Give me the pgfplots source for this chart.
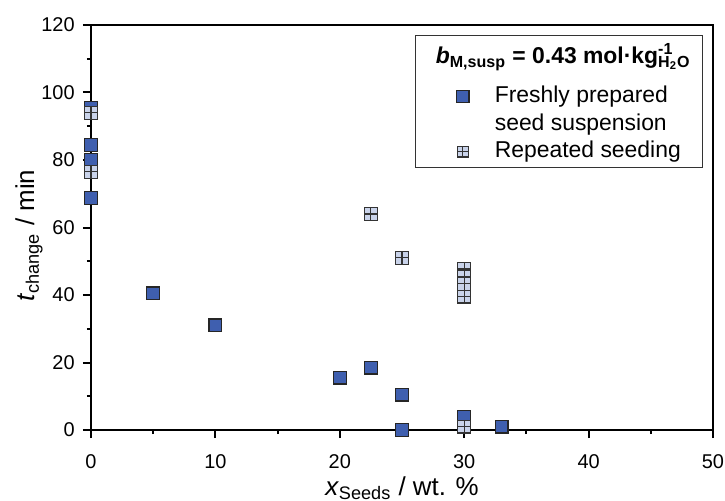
\documentclass[border=0pt]{standalone}
\usepackage{fontspec}
\setmainfont{Liberation Sans}
\usepackage{pgfplots}
\pgfplotsset{compat=1.18}
\definecolor{fresh}{HTML}{3F5FAF}
\definecolor{rep}{HTML}{C9D3EA}
\pgfdeclareplotmark{gsq}{%
 \pgfpathrectangle{\pgfpoint{-\pgfplotmarksize}{-\pgfplotmarksize}}{\pgfpoint{2\pgfplotmarksize}{2\pgfplotmarksize}}%
 \pgfusepathqfillstroke
 \pgfpathmoveto{\pgfpoint{-\pgfplotmarksize}{0pt}}\pgfpathlineto{\pgfpoint{\pgfplotmarksize}{0pt}}%
 \pgfpathmoveto{\pgfpoint{0pt}{-\pgfplotmarksize}}\pgfpathlineto{\pgfpoint{0pt}{\pgfplotmarksize}}%
 \pgfusepathqstroke}
\pgfplotsset{legimg/.style={legend image code/.code={\path[draw=none,fill=none] (-23.5bp,0) rectangle (16bp,0.1bp); \draw[##1, mark size=#1] plot coordinates {(0bp,3bp)};}}}
\begin{document}
\begin{tikzpicture}[font=\fontsize{10}{12}\selectfont]
\useasboundingbox (-45.5bp,-35.5bp) rectangle (317bp,215bp);
\begin{axis}[
  at={(0,0)}, anchor=south west,
  scale only axis, width=311bp, height=202.5bp,
  xmin=0, xmax=50, ymin=0, ymax=120,
  xtick={0,10,...,50}, ytick={0,20,...,120},
  minor xtick={5,15,...,45}, minor ytick={10,30,...,110},
  tick align=outside, xtick pos=bottom, ytick pos=left,
  major tick length=4bp, minor tick length=2bp,
  axis line style={line width=1bp},
  every tick/.style={line width=1bp, black},
  /pgf/number format/assume math mode=true,
  xticklabel style={anchor=north, inner sep=0pt, yshift=-8bp},
  yticklabel style={anchor=east, inner sep=0pt, xshift=-4bp},
  clip=false,
  xlabel={\textit{x}\textsubscript{Seeds} / wt. \%},
  ylabel={\textit{t}\textsubscript{change} / min},
  label style={font=\fontsize{13}{15}\selectfont},
  x label style={at={(axis description cs:0.5,0)}, anchor=base, yshift=-32.5bp},
  y label style={at={(axis description cs:-0.0997,0.48)}, anchor=center},
  legend cell align=left,
  legend style={at={(rel axis cs:0.984,0.975)}, anchor=north east, draw=black!80, line width=0.5bp,
    inner sep=0pt, row sep=0pt, column sep=0pt,
    font=\fontsize{11.5}{14}\selectfont,
    cells={anchor=base west},
    nodes={inner sep=0pt, text depth={}, text height={}}},
]
\addlegendimage{empty legend}
\addlegendentry{\hspace*{-29.5bp}\rule[-5bp]{0pt}{19bp}\textbf{\textit{b}\textsubscript{M,susp} = 0.43 mol·kg\rlap{\textsuperscript{-1}}\textsubscript{H\textsubscript{2}O}}\hspace*{6bp}}
\addplot[only marks, mark=square*, mark size=3.2bp, mark options={fill=fresh, draw=black!85, line width=0.6bp}, legimg=3.1bp]
coordinates {(0,95.5)(0,84.5)(0,80)(0,68.8)(5,40.5)(10,31)(20,15.5)(22.5,18.5)(25,10.5)(25,0)(30,4)(33,1)};
\addlegendentry{\vtop{\baselineskip=14bp\hbox{\rule{0pt}{14.5bp}Freshly prepared}\hbox{\rule[-4bp]{0pt}{4bp}seed suspension}}}
\addplot[only marks, mark=gsq, mark size=3.2bp, mark options={fill=rep, draw=black!80, line width=0.6bp}, legimg=2.7bp]
coordinates {(0,94)(0,76.5)(22.5,64)(25,51)(30,47.7)(30,45.5)(30,43.3)(30,39.5)(30,1)};
\addlegendentry{\rule[-5bp]{0pt}{14.5bp}Repeated seeding}
\end{axis}
\end{tikzpicture}
\end{document}
